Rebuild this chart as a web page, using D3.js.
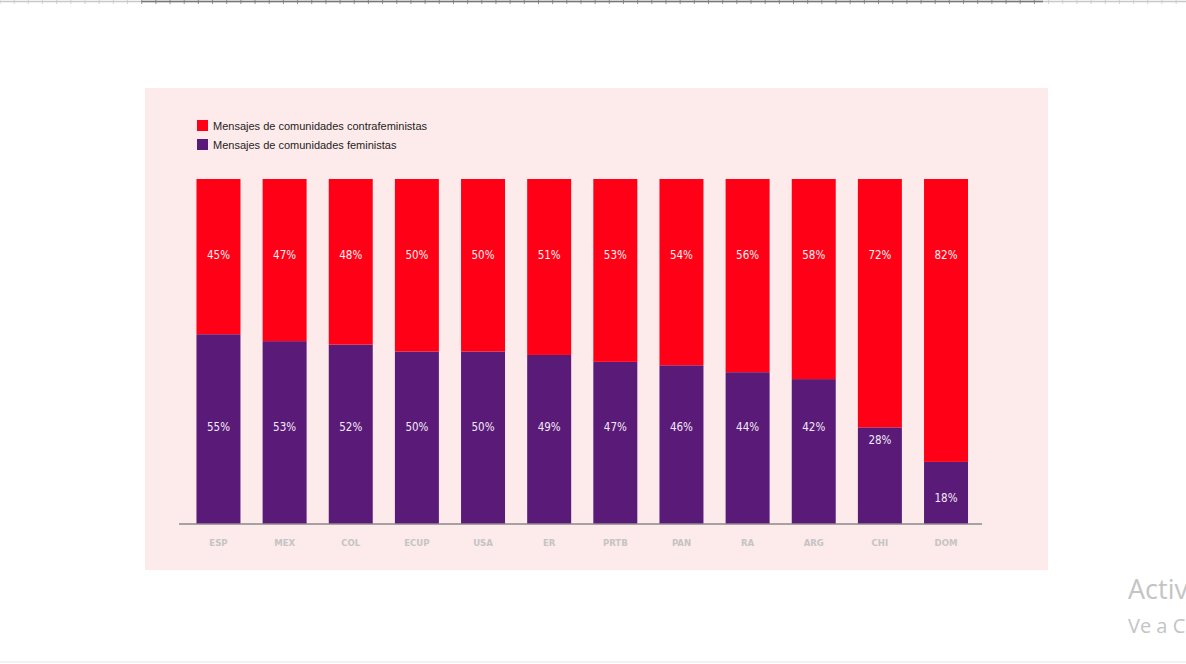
<!DOCTYPE html>
<html><head><meta charset="utf-8">
<script src="https://cdn.jsdelivr.net/npm/d3@7"></script>
<style>html,body{margin:0;padding:0;background:#fff;overflow:hidden}svg{display:block}</style>
</head><body>
<svg id="c" width="1186" height="664"></svg>
<script>
const categories = ["ESP","MEX","COL","ECUP","USA","ER","PRTB","PAN","RA","ARG","CHI","DOM"];
const feministas = [55,53,52,50,50,49,47,46,44,42,28,18];
const contrafeministas = [45,47,48,50,50,51,53,54,56,58,72,82];
const seriesNames = ["Mensajes de comunidades contrafeministas","Mensajes de comunidades feministas"];
const colors = {contra:"#ff0016", fem:"#5a1a78"};

const svg = d3.select("#c");

// Word-like ruler at top
const ruler = svg.append("g");
ruler.append("line").attr("x1",0).attr("x2",1186).attr("y1",1.5).attr("y2",1.5).attr("stroke","#c8c8c8").attr("stroke-width",1.5);
ruler.append("line").attr("x1",142).attr("x2",1043).attr("y1",1.5).attr("y2",1.5).attr("stroke","#777").attr("stroke-width",1.5);
ruler.selectAll("line.t").data(d3.range(-10,84)).enter().append("line")
  .attr("class","t")
  .attr("x1",d=>141.7+d*14.17).attr("x2",d=>141.7+d*14.17)
  .attr("y1",0).attr("y2",4)
  .attr("stroke",d=>{const x=141.7+d*14.17;return (x>=141&&x<=1044)?"#777":"#c8c8c8";})
  .attr("stroke-width",0.8);

// bottom faint line
svg.append("line").attr("x1",0).attr("x2",1186).attr("y1",662).attr("y2",662).attr("stroke","#e6e6e6").attr("stroke-width",1);

// panel
svg.append("rect").attr("x",145).attr("y",88).attr("width",903).attr("height",482).attr("fill","#fdeaea");

const x = d3.scaleBand().domain(categories).range([185.4,979.1]).paddingInner(0.335).paddingOuter(0.1675);
const y = d3.scaleLinear().domain([0,100]).range([524,179]);

const data = categories.map((c,i)=>({c, fem:feministas[i], contra:contrafeministas[i]}));

// purple (bottom)
svg.append("g").selectAll("rect").data(data).enter().append("rect")
  .attr("x",d=>x(d.c)).attr("width",x.bandwidth())
  .attr("y",d=>y(d.fem)).attr("height",d=>y(0)-y(d.fem))
  .attr("fill",colors.fem);
// red (top)
svg.append("g").selectAll("rect").data(data).enter().append("rect")
  .attr("x",d=>x(d.c)).attr("width",x.bandwidth())
  .attr("y",d=>y(d.fem+d.contra)).attr("height",d=>y(d.fem)-y(d.fem+d.contra))
  .attr("fill",colors.contra);

const lblFont = "'DejaVu Sans Condensed','DejaVu Sans',sans-serif";
// red labels
svg.append("g").selectAll("text").data(data).enter().append("text")
  .attr("x",d=>x(d.c)+x.bandwidth()/2).attr("y",y(78))
  .attr("text-anchor","middle").attr("dominant-baseline","central")
  .attr("font-family",lblFont).attr("font-size","11.5px").attr("fill","#fff3f3")
  .text(d=>d.contra+"%");
// purple labels
svg.append("g").selectAll("text").data(data).enter().append("text")
  .attr("x",d=>x(d.c)+x.bandwidth()/2)
  .attr("y",d=> d.fem<20 ? y(0)-26 : Math.max(y(28), y(d.fem)+13))
  .attr("text-anchor","middle").attr("dominant-baseline","central")
  .attr("font-family",lblFont).attr("font-size","11.5px").attr("fill","#f3eaf6")
  .text(d=>d.fem+"%");

// axis
svg.append("line").attr("x1",179).attr("x2",982).attr("y1",524).attr("y2",524).attr("stroke","#8a8a8a").attr("stroke-width",1.5);
const ax = svg.append("g").attr("transform","translate(0,524)").call(d3.axisBottom(x).tickSize(0).tickPadding(13));
ax.select(".domain").remove();
ax.selectAll("text").attr("font-family",lblFont).attr("font-size","9.5px").attr("font-weight","bold").attr("fill","#c4c4c4").attr("dy","0.95em");

// legend
const leg = svg.append("g");
[colors.contra, colors.fem].forEach((col,i)=>{
  leg.append("rect").attr("x",197).attr("y",120+i*19).attr("width",11).attr("height",11).attr("fill",col);
  leg.append("text").attr("x",213).attr("y",125.5+i*19).attr("dominant-baseline","central")
    .attr("font-family","'Liberation Sans',Arial,sans-serif").attr("font-size","11px").attr("fill","#1e1e1e")
    .text(seriesNames[i]);
});

// watermark
svg.append("text").attr("x",1128).attr("y",599).attr("font-family","'Open Sans','Noto Sans',sans-serif").attr("font-size","27px").attr("fill","#c4c4c4").text("Activar Windows");
svg.append("text").attr("x",1128).attr("y",633).attr("font-family","'Open Sans','Noto Sans',sans-serif").attr("font-size","20px").attr("fill","#c4c4c4").text("Ve a Configuración");
</script>
</body></html>
